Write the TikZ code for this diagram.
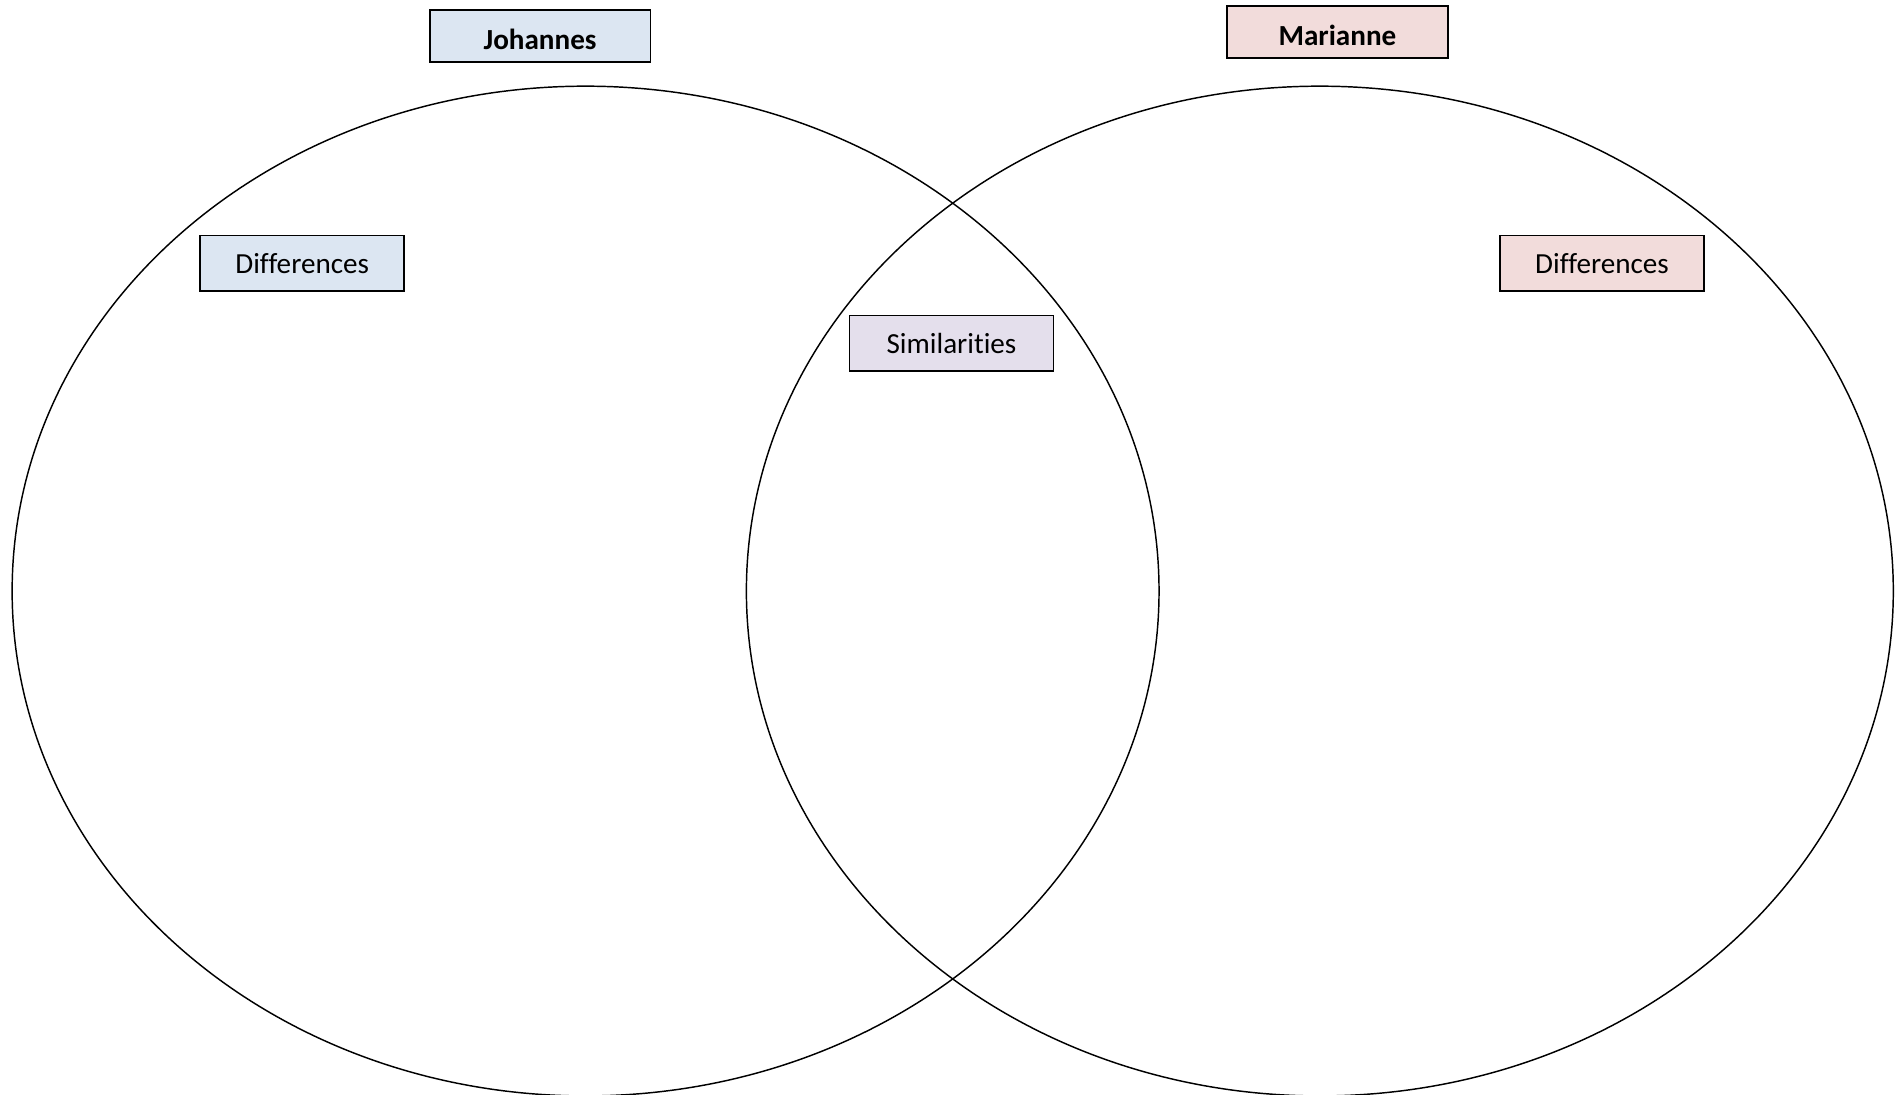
\documentclass[tikz,border=0pt]{standalone}
\usepackage{fontspec}
\setmainfont{Carlito}[Ligatures=NoCommon]
\usepackage{tikz}
\usetikzlibrary{positioning}
\definecolor{jblue}{HTML}{DCE6F2}
\definecolor{mpink}{HTML}{F2DCDB}
\definecolor{spurple}{HTML}{E4DFEC}
\tikzset{
    tag/.style={draw, line width=1.5pt, rectangle, inner sep=0pt,
        minimum width=168pt, minimum height=46pt,
        font=\fontsize{24}{28}\selectfont},
    person/.style={tag, minimum width=182pt, minimum height=43pt,
        text height=22pt, text depth=0pt,
        font=\fontsize{24}{28}\selectfont\bfseries},
    ring/.style={line width=1.2pt}
}
\begin{document}
\begin{tikzpicture}[x=1pt,y=-1pt]
    \useasboundingbox (0,0) rectangle (1568,902);
    \draw[ring] (482.5,487) ellipse [x radius=472.5, y radius=416];
    \draw[ring] (1087.5,487) ellipse [x radius=472.5, y radius=416];
    \node[person, fill=jblue] (j) at (445,29.5) {Johannes};
    \node[person, fill=mpink] (m) at (1102,26.5) {Marianne};
    \node[tag, fill=jblue] (jd) at (249,217) {Differences};
    \node[tag, fill=spurple] (s) at (784,283) {Similarities};
    \node[tag, fill=mpink] (md) at (1320,217) {Differences};
\end{tikzpicture}
\end{document}
